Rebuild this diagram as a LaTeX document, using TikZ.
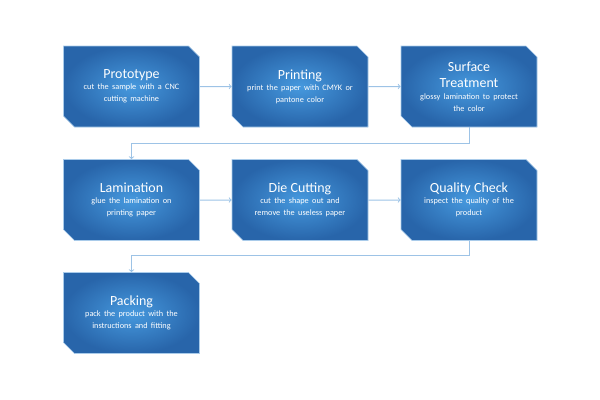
\documentclass[tikz,border=0pt]{standalone}
\usepackage{fontspec}
\setmainfont{Carlito}
\usetikzlibrary{shapes.misc}
\definecolor{boxin}{HTML}{4699DE}
\definecolor{boxout}{HTML}{2865AA}
\definecolor{boxline}{HTML}{A9CBEA}
\definecolor{linkline}{HTML}{9DC3E6}
\tikzset{
  stepbox/.style={chamfered rectangle,chamfered rectangle corners={north east,south west},
    chamfered rectangle xsep=5.5bp,chamfered rectangle ysep=5.5bp,
    minimum width=136bp,minimum height=81bp,inner sep=0pt,text width=122bp,
    draw=boxline,line width=0.6bp,shading=radial,inner color=boxin,outer color=boxout,
    text=white,align=center},
  link/.style={draw=linkline,line width=1bp,->},
}
\newcommand{\steptitle}[1]{\fontsize{14}{16.5}\selectfont #1\\[1.5bp]\fontsize{8.3}{9.8}\selectfont}
\begin{document}
\begin{tikzpicture}[>=to,]
\useasboundingbox (0bp,0bp) rectangle (600bp,-400bp);
%%
\node (node_0) at (131.5bp,-86.5bp) [stepbox] {\steptitle{Prototype}cut the sample with a CNC\\cutting machine};
  \node (node_1) at (300bp,-86.5bp) [stepbox] {\steptitle{Printing}print the paper with CMYK or\\pantone color};
  \node (node_2) at (469bp,-86.5bp) [stepbox] {\steptitle{Surface\\Treatment}glossy lamination to protect\\the color};
  \node (node_3) at (131.5bp,-200bp) [stepbox] {\steptitle{Lamination}glue the lamination on\\printing paper};
  \node (node_4) at (300bp,-200bp) [stepbox] {\steptitle{Die Cutting}cut the shape out and\\remove the useless paper};
  \node (node_5) at (469bp,-200bp) [stepbox] {\steptitle{Quality Check}inspect the quality of the\\product};
  \node (node_6) at (131.5bp,-313bp) [stepbox] {\steptitle{Packing}pack the product with the\\instructions and fitting};
%
  \draw [link] (node_0) -- (node_1);
  \draw [link] (node_1) -- (node_2);
  \draw [link] (node_2.south) -- ++(0bp,-16bp) -| (node_3.north);
  \draw [link] (node_3) -- (node_4);
  \draw [link] (node_4) -- (node_5);
  \draw [link] (node_5.south) -- ++(0bp,-15bp) -| (node_6.north);
%
\end{tikzpicture}
\end{document}
